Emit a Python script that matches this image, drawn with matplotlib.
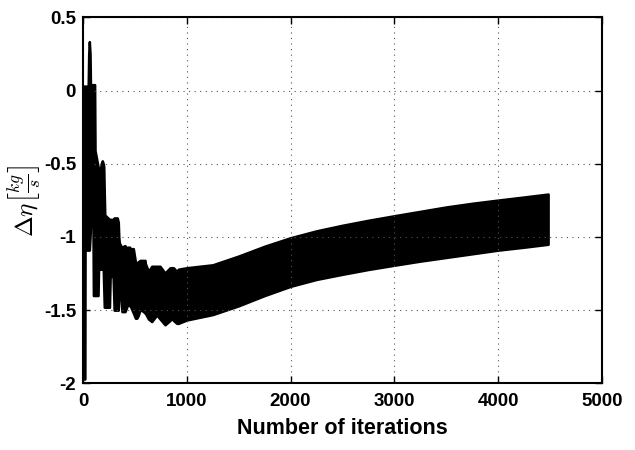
import numpy as np
import matplotlib
matplotlib.use("Agg")
import matplotlib.pyplot as plt

# envelope of the oscillating signal
iters = [0, 18, 20, 50, 55, 61, 68, 72, 96, 100,
         112, 116, 140, 145, 150, 165, 175, 186, 195, 200,
         205, 210, 255, 262, 290, 300, 330, 340, 345, 350,
         365, 370, 375, 400, 405, 421, 430, 450, 455, 485,
         505, 518, 530, 550, 565, 598, 600, 630, 662, 710,
         742, 790, 839, 855, 871, 903, 919, 1000, 1250, 1500,
         1750, 2000, 2250, 2500, 2750, 3000, 3250, 3500, 3750, 4000,
         4250, 4481]
upper = [0.03, 0.03, 0.03, 0.03, 0.25, 0.334, 0.25, 0.04, 0.04, 0.04,
         0.04, -0.41, -0.50, -0.52, -0.53, -0.56, -0.50, -0.48, -0.50, -0.52,
         -0.70, -0.85, -0.88, -0.88, -0.88, -0.87, -0.87, -0.90, -1.00, -1.04,
         -1.06, -1.07, -1.07, -1.06, -1.06, -1.08, -1.07, -1.07, -1.08, -1.08,
         -1.17, -1.19, -1.17, -1.16, -1.16, -1.16, -1.18, -1.235, -1.20, -1.20,
         -1.20, -1.246, -1.21, -1.21, -1.21, -1.235, -1.22, -1.21, -1.19, -1.13,
         -1.063, -1.005, -0.958, -0.92, -0.886, -0.855, -0.825, -0.795, -0.77, -0.748,
         -0.727, -0.707]
lower = [-1.97, -1.97, -1.09, -1.09, -1.09, -1.09, -1.0, -0.93, -0.93, -1.40,
         -1.40, -1.40, -1.40, -1.40, -1.22, -1.22, -1.22, -1.22, -1.22, -1.35,
         -1.48, -1.48, -1.48, -1.27, -1.27, -1.50, -1.50, -1.50, -1.42, -1.38,
         -1.38, -1.45, -1.51, -1.51, -1.51, -1.48, -1.46, -1.47, -1.47, -1.52,
         -1.555, -1.555, -1.54, -1.50, -1.50, -1.52, -1.52, -1.56, -1.578, -1.533,
         -1.56, -1.60, -1.57, -1.556, -1.57, -1.59, -1.59, -1.567, -1.53, -1.47,
         -1.40, -1.337, -1.29, -1.255, -1.222, -1.193, -1.165, -1.14, -1.115, -1.09,
         -1.07, -1.05]

xticks = [0, 1000, 2000, 3000, 4000, 5000]
yticks = [-2, -1.5, -1, -0.5, 0, 0.5]
ytick_labels = ['-2', '-1.5', '-1', '-0.5', '0', '0.5']

plt.rcParams['font.family'] = ['Liberation Sans', 'DejaVu Sans']
plt.rcParams['mathtext.fontset'] = 'cm'
plt.rcParams['axes.unicode_minus'] = False

fig = plt.figure(figsize=(6.35, 4.5), dpi=100)
ax = fig.add_axes([0.1307, 0.148, 0.8173, 0.8136])

ax.fill_between(iters, lower, upper, color='black', linewidth=1.8, edgecolor='black')

ax.set_xlim(0, 5000)
ax.set_ylim(-2, 0.5)
ax.set_xticks(xticks)
ax.set_yticks(yticks)
ax.set_yticklabels(ytick_labels)
ax.grid(True, color='#555555', linestyle=(0, (1, 4)), linewidth=0.8)
ax.tick_params(direction='in', length=5, width=1, top=True, right=True,
               labelsize=13.5, pad=5)
ax.tick_params(axis='x', pad=7)
for lab in ax.get_xticklabels() + ax.get_yticklabels():
    lab.set_fontweight('bold')
for s in ax.spines.values():
    s.set_linewidth(1.5)

ax.set_xlabel('Number of iterations', fontsize=15.5, fontweight='bold', labelpad=6)
ax.set_ylabel(r'$\Delta\eta\left[\frac{kg}{s}\right]$', fontsize=18, labelpad=1)

fig.savefig('out.png', dpi=100)
